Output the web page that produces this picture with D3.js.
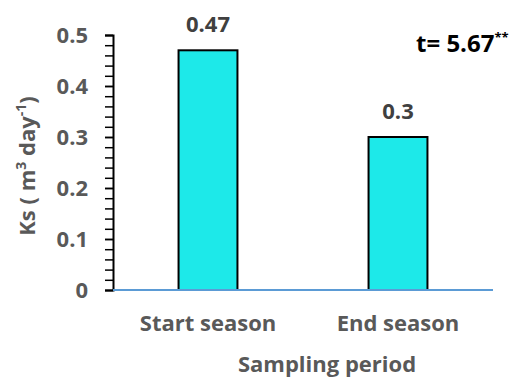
<!DOCTYPE html>
<html>
<head>
<meta charset="utf-8">
<script src="https://cdn.jsdelivr.net/npm/d3@7"></script>
<style>
  body { margin: 0; background: #fff; }
  text { font-family: "Open Sans", sans-serif; font-weight: bold; }
</style>
</head>
<body>
<div id="chart"></div>
<script>
const periods = ['Start season', 'End season'];
const ksValues = [0.47, 0.3];
const valueLabels = ['0.47', '0.3'];
const yTicks = [0, 0.1, 0.2, 0.3, 0.4, 0.5];

const width = 524;
const height = 379;

const svg = d3.select('#chart')
    .append('svg')
        .attr('width', width)
        .attr('height', height);

const x = d3.scaleBand()
    .domain(periods)
    .range([113, 493])
    .paddingInner(0.69)
    .paddingOuter(0.345);

const y = d3.scaleLinear()
    .domain([0, 0.5])
    .range([290, 35]);

// minor ticks
svg.append('g')
    .attr('transform', 'translate(113,0)')
    .call(d3.axisLeft(y).tickValues(d3.range(0, 0.501, 0.02)).tickSize(8).tickFormat(''))
    .call(g => g.selectAll('line').attr('stroke', '#000').attr('stroke-width', 1.5))
    .call(g => g.select('.domain').remove());

// major ticks + labels
svg.append('g')
    .attr('transform', 'translate(113,0)')
    .call(d3.axisLeft(y).tickValues(yTicks).tickSize(8).tickPadding(17).tickFormat(d => d === 0 ? '0' : d3.format('.1f')(d)))
    .call(g => g.select('.domain').attr('stroke', '#000').attr('stroke-width', 2))
    .call(g => g.selectAll('line').attr('stroke', '#000').attr('stroke-width', 1.5))
    .call(g => g.selectAll('text')
        .attr('fill', '#595959')
        .style('font-size', '22px'));

svg.selectAll('rect.bar')
    .data(ksValues)
    .enter()
    .append('rect')
        .attr('class', 'bar')
        .attr('x', (d, i) => x(periods[i]))
        .attr('y', d => y(d))
        .attr('width', x.bandwidth())
        .attr('height', d => y(0) - y(d))
        .attr('fill', '#1de9e9')
        .attr('stroke', '#000')
        .attr('stroke-width', 2);

// x axis line
svg.append('line')
    .attr('x1', 113).attr('x2', 493)
    .attr('y1', y(0)).attr('y2', y(0))
    .attr('stroke', '#5b9bd5')
    .attr('stroke-width', 2);

svg.selectAll('text.val')
    .data(valueLabels)
    .enter()
    .append('text')
        .attr('class', 'val')
        .attr('x', (d, i) => x(periods[i]) + x.bandwidth() / 2)
        .attr('y', (d, i) => y(ksValues[i]) - 18)
        .attr('text-anchor', 'middle')
        .style('font-size', '22px')
        .attr('fill', '#404040')
        .text(d => d);

svg.selectAll('text.cat')
    .data(periods)
    .enter()
    .append('text')
        .attr('class', 'cat')
        .attr('x', d => x(d) + x.bandwidth() / 2)
        .attr('y', 331)
        .attr('text-anchor', 'middle')
        .style('font-size', '22px')
        .attr('fill', '#595959')
        .text(d => d);

svg.append('text')
    .attr('x', 327)
    .attr('y', 372)
    .attr('text-anchor', 'middle')
    .style('font-size', '22px')
    .attr('fill', '#595959')
    .text('Sampling period');

const yTitle = svg.append('text')
    .attr('transform', 'translate(35,166) rotate(-90)')
    .attr('text-anchor', 'middle')
    .style('font-size', '22px')
    .attr('fill', '#595959');
yTitle.append('tspan').text('Ks ( m');
yTitle.append('tspan').attr('dy', -9).style('font-size', '14px').text('3');
yTitle.append('tspan').attr('dy', 9).text(' day');
yTitle.append('tspan').attr('dy', -9).style('font-size', '14px').text('-1');
yTitle.append('tspan').attr('dy', 9).text(')');

const tLabel = svg.append('text')
    .attr('x', 416)
    .attr('y', 52)
    .style('font-size', '24px')
    .attr('fill', '#000');
tLabel.append('tspan').text('t= 5.67');
tLabel.append('tspan').attr('dy', -10).style('font-size', '13px').text('**');
</script>
</body>
</html>
